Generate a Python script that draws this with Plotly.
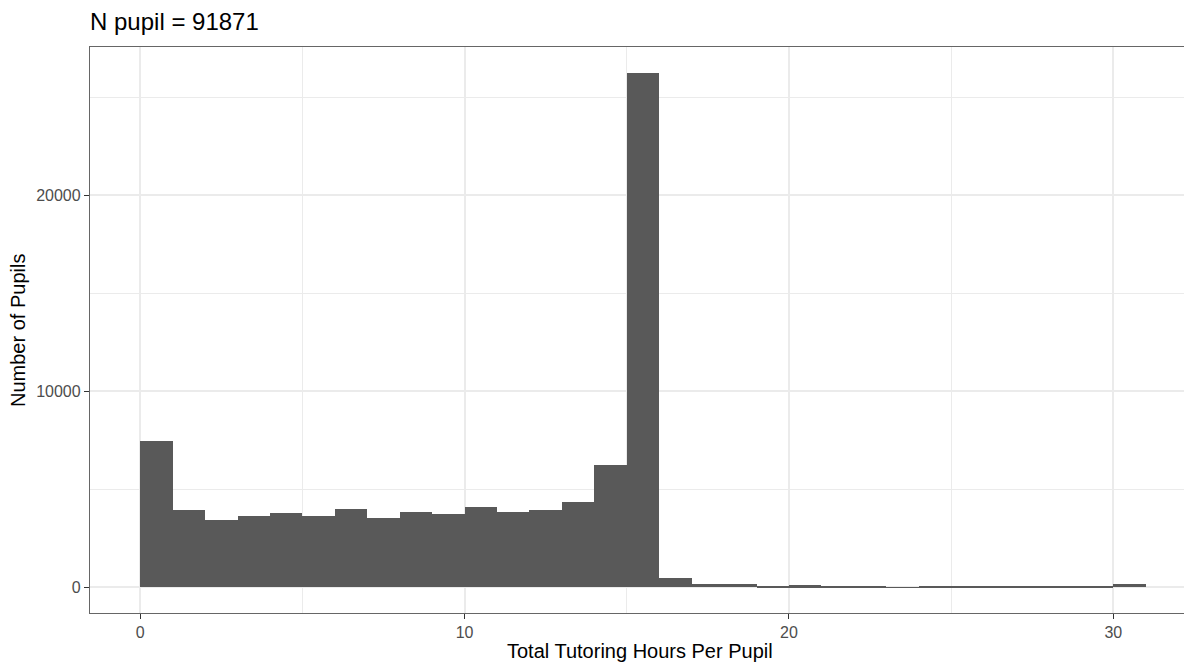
import plotly.graph_objects as go

# Histogram bins (left edges, width 1 hour) and counts
bin_left = list(range(0, 31))
counts = [7450, 3930, 3450, 3660, 3790, 3640, 3980, 3540, 3830, 3760,
          4070, 3830, 3960, 4340, 6220, 26250, 480, 150, 150, 70,
          100, 50, 50, 10, 50, 30, 50, 20, 50, 80, 150]
bin_width = 1
x_ticks = [0, 10, 20, 30]
y_ticks = [0, 10000, 20000]
title_text = "N pupil = 91871"
x_title = "Total Tutoring Hours Per Pupil"
y_title = "Number of Pupils"

W, H = 1184, 664
# plot area in screen pixels
PL, PR, PT, PB = 90, 1184, 47, 613
L, R, T, B = PL, W - PR, PT, H - PB
FONT = "Arial, Liberation Sans, sans-serif"

centers = [b + bin_width / 2 for b in bin_left]
xmax = bin_left[-1] + bin_width
xexp = 0.05 * xmax
ymax = max(counts)
yexp = 0.05 * ymax
px_per_unit = (1196 - PL) / (xmax + 2 * xexp)
x_right = -xexp + (PR - PL) / px_per_unit

fig = go.Figure(go.Bar(
    x=centers, y=counts, width=[bin_width] * len(centers),
    marker=dict(color="#595959", line=dict(width=0)),
    hoverinfo="x+y",
))

grid = "#EBEBEB"
pw, ph = PR - PL, PB - PT
fig.update_layout(
    width=W, height=H,
    margin=dict(l=L, r=R, t=T, b=B, pad=0),
    paper_bgcolor="white", plot_bgcolor="white",
    showlegend=False, bargap=0,
    font=dict(family=FONT, color="#4D4D4D"),
    title=dict(text=title_text, xref="container", yref="container",
               x=PL / W, xanchor="left", y=1 - 22 / H, yanchor="middle",
               font=dict(size=24, color="black", family=FONT)),
    xaxis=dict(range=[-xexp, x_right], tickvals=x_ticks,
               ticktext=[str(v) for v in x_ticks],
               showgrid=True, gridcolor=grid, gridwidth=1.5,
               minor=dict(dtick=5, tick0=0, showgrid=True, gridcolor=grid, gridwidth=0.8),
               zeroline=False, showline=True, mirror=True,
               linecolor="#666666", linewidth=1.3,
               ticks="outside", ticklen=5, tickwidth=1.3, tickcolor="#333333",
               tickfont=dict(size=16, color="#4D4D4D")),
    yaxis=dict(range=[-yexp, ymax + yexp], tickvals=y_ticks,
               ticktext=[str(v) for v in y_ticks],
               showgrid=True, gridcolor=grid, gridwidth=1.5,
               minor=dict(dtick=5000, tick0=0, showgrid=True, gridcolor=grid, gridwidth=0.8),
               zeroline=False, showline=True, mirror=False,
               linecolor="#666666", linewidth=1.3,
               ticks="outside", ticklen=5, tickwidth=1.3, tickcolor="#333333",
               tickfont=dict(size=16, color="#4D4D4D")),
    annotations=[
        dict(text=x_title, xref="paper", yref="paper",
             x=(640 - PL) / pw, y=(PB - 651) / ph,
             xanchor="center", yanchor="middle", showarrow=False,
             font=dict(size=20, color="black", family=FONT)),
        dict(text=y_title, xref="paper", yref="paper",
             x=(18 - PL) / pw, y=(PB - 331) / ph, textangle=-90,
             xanchor="center", yanchor="middle", showarrow=False,
             font=dict(size=20, color="black", family=FONT)),
    ],
)

fig.write_html(
    "out.html",
    config={"displayModeBar": False},
    post_script="document.body.style.margin='0';document.body.style.overflow='hidden';",
)
